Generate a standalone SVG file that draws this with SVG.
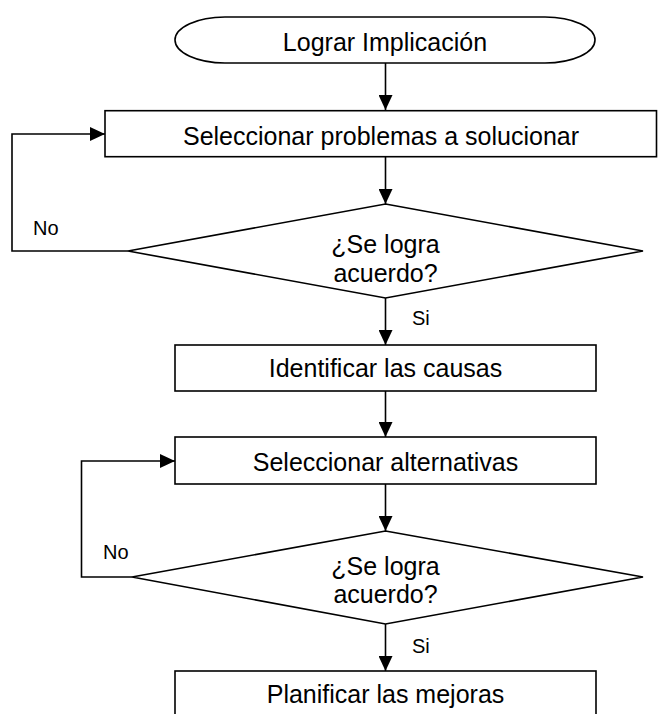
<svg xmlns="http://www.w3.org/2000/svg" width="658" height="714" viewBox="0 0 658 714">
<style>
.s{fill:#fff;stroke:#000;stroke-width:1.6}
.c{fill:none;stroke:#000;stroke-width:1.6}
.t{font-family:"Liberation Sans",Arial,sans-serif;font-size:25px;fill:#000;text-anchor:middle}
.l{font-family:"Liberation Sans",Arial,sans-serif;font-size:20px;fill:#000}
</style>
<defs>
<marker id="ah" markerUnits="userSpaceOnUse" markerWidth="16" markerHeight="14" viewBox="0 0 16 14" refX="15" refY="7" orient="auto">
<path d="M0,0 L15,7 L0,14 Z" fill="#000"/>
</marker>
</defs>
<g id="connectors">
<line class="c" x1="385.5" y1="63" x2="385.5" y2="110" marker-end="url(#ah)"/>
<line class="c" x1="385.5" y1="157" x2="385.5" y2="204" marker-end="url(#ah)"/>
<polyline class="c" points="128,251 12,251 12,134 105,134" marker-end="url(#ah)"/>
<line class="c" x1="385.5" y1="298" x2="385.5" y2="345" marker-end="url(#ah)"/>
<line class="c" x1="385.5" y1="391" x2="385.5" y2="437" marker-end="url(#ah)"/>
<line class="c" x1="385.5" y1="484" x2="385.5" y2="531" marker-end="url(#ah)"/>
<polyline class="c" points="132,577 81.5,577 81.5,461 175,461" marker-end="url(#ah)"/>
<line class="c" x1="385.5" y1="624" x2="385.5" y2="671" marker-end="url(#ah)"/>
<text class="l" x="33" y="235">No</text>
<text class="l" x="412" y="325">Si</text>
<text class="l" x="103" y="559">No</text>
<text class="l" x="412" y="653">Si</text>
</g>
<g id="start">
<rect class="s" x="175" y="17" width="420" height="46" rx="50" ry="23"/>
<text class="t" x="385" y="51">Lograr Implicación</text>
</g>
<g id="select-problems">
<rect class="s" x="105" y="110.7" width="551.5" height="46"/>
<text class="t" x="381" y="145">Seleccionar problemas a solucionar</text>
</g>
<g id="decision1">
<polygon class="s" points="385.5,204 643,251 385.5,298 128,251"/>
<text class="t" x="385.5" y="253">¿Se logra</text>
<text class="t" x="385.5" y="282">acuerdo?</text>
</g>
<g id="identify-causes">
<rect class="s" x="175" y="345" width="421" height="46"/>
<text class="t" x="385.5" y="377">Identificar las causas</text>
</g>
<g id="select-alternatives">
<rect class="s" x="175" y="437" width="421" height="47"/>
<text class="t" x="385.5" y="471">Seleccionar alternativas</text>
</g>
<g id="decision2">
<polygon class="s" points="385.5,531 643,577 385.5,624 132,577"/>
<text class="t" x="385.5" y="575">¿Se logra</text>
<text class="t" x="385.5" y="603">acuerdo?</text>
</g>
<g id="plan-improvements">
<rect class="s" x="175" y="671" width="421" height="47"/>
<text class="t" x="385.5" y="703">Planificar las mejoras</text>
</g>
</svg>
